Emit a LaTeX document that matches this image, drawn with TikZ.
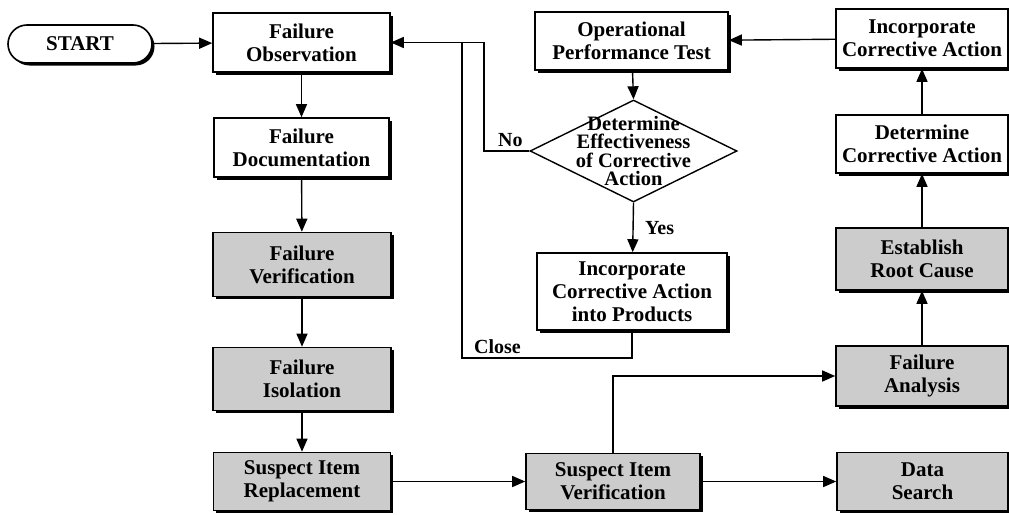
\documentclass[tikz,border=0pt]{standalone}
\usepackage{fontspec}
\setmainfont{Liberation Serif}
\usetikzlibrary{arrows.meta,shapes.geometric,shadows}
\begin{document}
\begin{tikzpicture}[x=1pt,y=-1pt,
  txt/.style={font=\bfseries\fontsize{21}{23}\selectfont, align=center},
  box/.style={txt, draw, line width=1.6pt, fill=white, inner sep=0pt,
    drop shadow={shadow xshift=2.5pt, shadow yshift=-2.5pt, fill=black, opacity=1}},
  shadedbox/.style={box, fill=black!20},
  link/.style={line width=1.4pt, -{Triangle[length=13pt,width=11pt]}},
  plainlink/.style={line width=1.4pt},
  lbl/.style={font=\bfseries\fontsize{20}{22}\selectfont, inner sep=0pt},
]
\useasboundingbox (0,0) rectangle (1009,514);

% left column
\node[box, rounded corners=19pt, minimum width=144pt, minimum height=38pt] (start) at (80,44) {START};
\node[box, minimum width=177pt, minimum height=59pt] (obs) at (301.5,42.5) {Failure\\Observation};
\node[box, minimum width=175pt, minimum height=59pt] (doc) at (301.5,147.5) {Failure\\Documentation};
\node[shadedbox, minimum width=178pt, minimum height=64pt] (ver) at (302,264.5) {Failure\\Verification};
\node[shadedbox, minimum width=178pt, minimum height=63pt] (iso) at (302,379) {Failure\\Isolation};
\node[shadedbox, minimum width=177pt, minimum height=58pt] (rep) at (302,481.5) {Suspect Item\\Replacement};

% bottom row
\node[shadedbox, minimum width=174pt, minimum height=56pt] (siv) at (613,481.5) {Suspect Item\\Verification};
\node[shadedbox, minimum width=171pt, minimum height=58pt] (ds) at (922.5,481.5) {Data\\Search};

% right column
\node[shadedbox, minimum width=172pt, minimum height=60pt] (fa) at (922,376) {Failure\\Analysis};
\node[shadedbox, minimum width=172pt, minimum height=62pt] (erc) at (922,259) {Establish\\Root Cause};
\node[box, minimum width=172pt, minimum height=58pt] (dca) at (922,144) {Determine\\Corrective Action};
\node[box, minimum width=172pt, minimum height=59pt] (ica) at (922,38.5) {Incorporate\\Corrective Action};

% middle column
\node[box, minimum width=193pt, minimum height=58pt] (opt) at (631.5,41) {Operational\\Performance Test};
\node[draw, diamond, line width=1.4pt, fill=white, inner sep=0pt,
      minimum width=207pt, minimum height=102pt] (dia) at (633.5,151) {};
\node[txt, font=\bfseries\fontsize{20.5}{18.5}\selectfont, inner sep=0pt] (diatext) at (dia.center)
  {Determine\\Effectiveness\\of Corrective\\Action};
\node[box, minimum width=190pt, minimum height=77pt] (ipca) at (632,291.5)
  {Incorporate\\Corrective Action\\into Products};

% junction points of the feedback lines
\coordinate (nox) at (484,151);
\coordinate (closex) at (462,358);

% main flow
\draw[link] (start) -- (obs);
\draw[link] (obs) -- (doc);
\draw[link] (doc) -- (ver);
\draw[link] (ver) -- (iso);
\draw[link] (iso) -- (rep);
\draw[link] (rep) -- (siv);
\draw[link] (siv) -- (ds);
\draw[link] (siv.north) |- (fa.west);
\draw[link] (fa) -- (erc);
\draw[link] (erc) -- (dca);
\draw[link] (dca) -- (ica);
\draw[link] (ica) -- (opt);
\draw[link] (opt) -- (dia.north);
\draw[link] (dia.south) -- (ipca);

% feedback: No / Close
\draw[link] (dia.west) -- (nox) |- (obs.east);
\draw[plainlink] (ipca.south) |- (closex) -- (closex |- obs.east);

% branch labels
\node[lbl, anchor=base west] (nolbl) at (498,146) {No};
\node[lbl, anchor=base west] (yeslbl) at (645,234) {Yes};
\node[lbl, anchor=base west] (closelbl) at (474,353) {Close};
\end{tikzpicture}
\end{document}
